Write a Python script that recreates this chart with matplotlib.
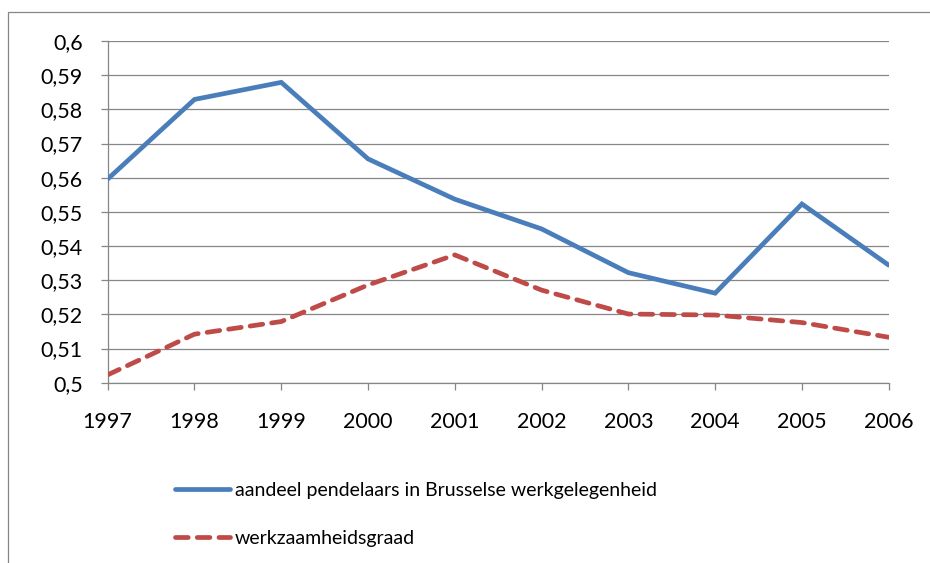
import matplotlib
matplotlib.use("Agg")
import matplotlib.pyplot as plt
from matplotlib.patches import Rectangle

plt.rcParams['font.family'] = ['Lato', 'DejaVu Sans']

years = [1997, 1998, 1999, 2000, 2001, 2002, 2003, 2004, 2005, 2006]
pendelaars = [0.5596, 0.5829, 0.5879, 0.5655, 0.5537, 0.5450, 0.5322, 0.5262, 0.5523, 0.5344]
werkzaamheid = [0.5023, 0.5142, 0.5179, 0.5286, 0.5374, 0.5271, 0.5201, 0.5198, 0.5176, 0.5133]
yticks = [0.50, 0.51, 0.52, 0.53, 0.54, 0.55, 0.56, 0.57, 0.58, 0.59, 0.60]
ytick_labels = ['0,5', '0,51', '0,52', '0,53', '0,54', '0,55', '0,56', '0,57', '0,58', '0,59', '0,6']

W, H = 930, 563
fig = plt.figure(figsize=(W / 100, H / 100), dpi=100)
ax = fig.add_axes([107.7 / W, 1 - 382.7 / H, (888.7 - 107.7) / W, (382.7 - 41) / H])

grey = '#868686'

# outer chart-area border (runs off the right and bottom edge)
fig.patches.append(Rectangle((8 / W, -0.1), 1.2, 1.1 - 12 / H, transform=fig.transFigure,
                             fill=False, edgecolor=grey, linewidth=0.9))

ax.plot(years, pendelaars, color='#4A7EBB', linewidth=3.4, solid_capstyle='round',
        solid_joinstyle='miter', label='aandeel pendelaars in Brusselse werkgelegenheid', zorder=3)
ax.plot(years, werkzaamheid, color='#BE4B48', linewidth=3.4, dashes=(2.7, 1.9),
        dash_capstyle='round', label='werkzaamheidsgraad', zorder=3)

ax.set_xlim(1997, 2006)
ax.set_ylim(0.5, 0.6)
ax.set_xticks(years)
ax.set_xticklabels([str(y) for y in years])
ax.set_yticks(yticks)
ax.set_yticklabels(ytick_labels)
ax.grid(axis='y', color=grey, linewidth=0.9)
ax.set_axisbelow(True)

for s in ['top', 'right']:
    ax.spines[s].set_visible(False)
for s in ['left', 'bottom']:
    ax.spines[s].set_color(grey)
    ax.spines[s].set_linewidth(0.9)

ax.tick_params(axis='both', colors=grey, labelcolor='black', labelsize=15.5, length=5, width=0.9)
ax.tick_params(axis='y', pad=13)
ax.tick_params(axis='x', pad=16)

fig.legend(loc='upper left', bbox_to_anchor=(175 / W, 1 - 482 / H), frameon=False,
           borderaxespad=0, borderpad=0,
           fontsize=14, handlelength=2.83, handletextpad=0.26, labelspacing=1.58)

fig.savefig('out.png', dpi=100)
